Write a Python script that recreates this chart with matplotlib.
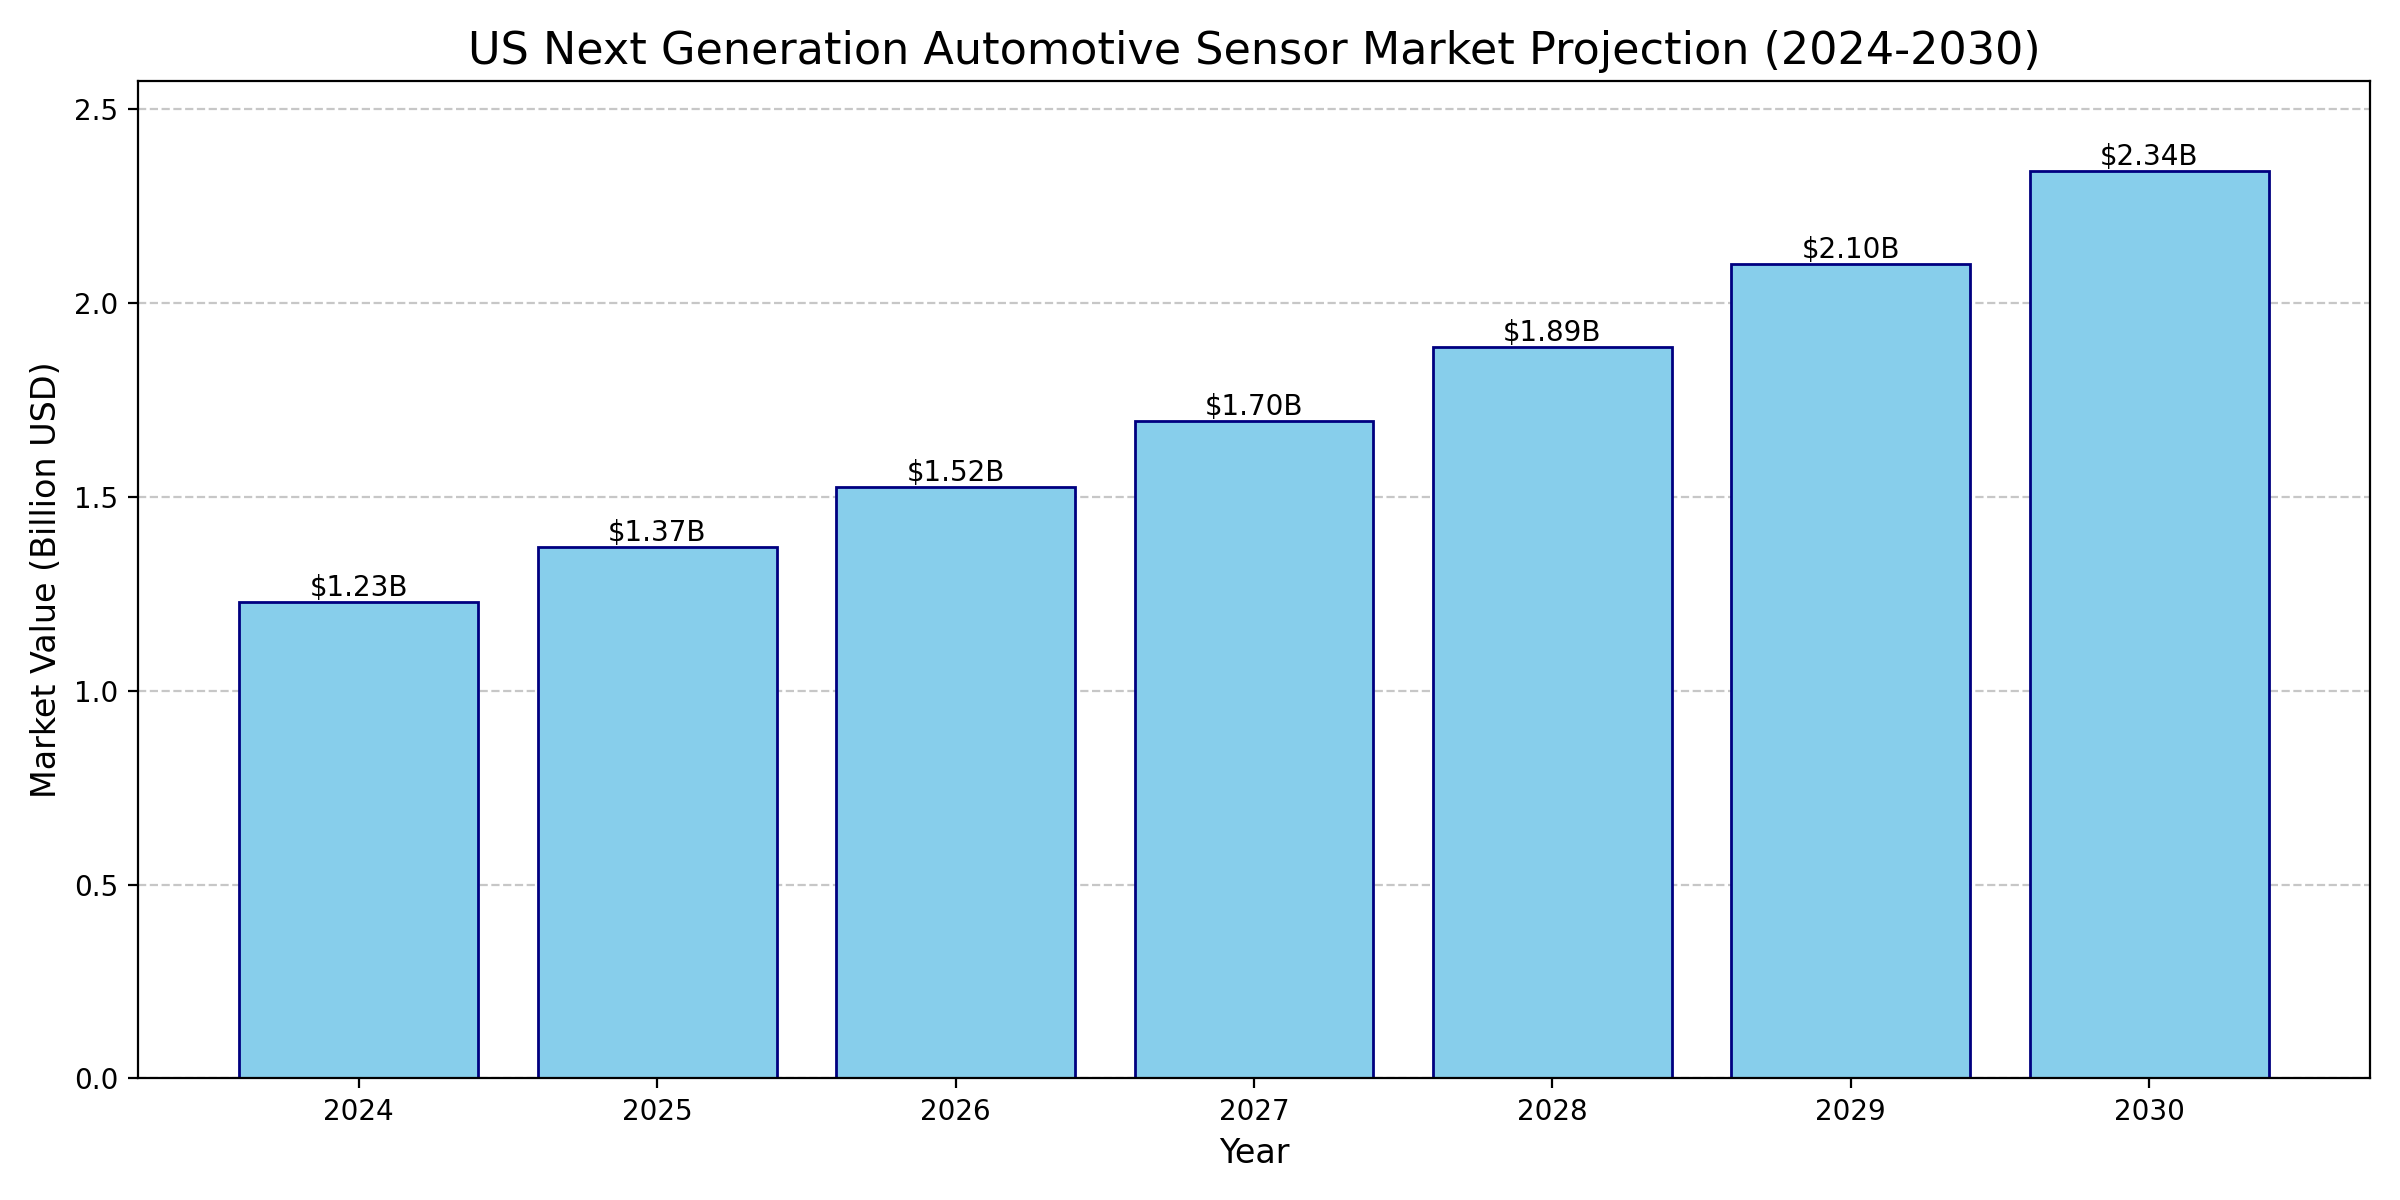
import matplotlib
matplotlib.use('Agg')
import matplotlib.pyplot as plt

years = ['2024', '2025', '2026', '2027', '2028', '2029', '2030']
values = [1.23, 1.37, 1.525, 1.695, 1.888, 2.10, 2.34]
labels = ['$1.23B', '$1.37B', '$1.52B', '$1.70B', '$1.89B', '$2.10B', '$2.34B']


def plot_market(filename):
    fig, ax = plt.subplots(figsize=(12, 6), dpi=200)
    bars = ax.bar(years, values, color='skyblue', edgecolor='navy')

    for bar, lab in zip(bars, labels):
        ax.text(bar.get_x() + bar.get_width() / 2, bar.get_height(), lab,
                ha='center', va='bottom', fontsize=10)

    ax.set_title('US Next Generation Automotive Sensor Market Projection (2024-2030)', fontsize=16)
    ax.set_xlabel('Year', fontsize=12)
    ax.set_ylabel('Market Value (Billion USD)', fontsize=12)
    ax.set_ylim(0, max(values) * 1.1)
    ax.grid(axis='y', linestyle='--', alpha=0.7)
    ax.set_axisbelow(True)

    plt.tight_layout()
    plt.savefig(filename)


if __name__ == '__main__':
    plot_market('out.png')
